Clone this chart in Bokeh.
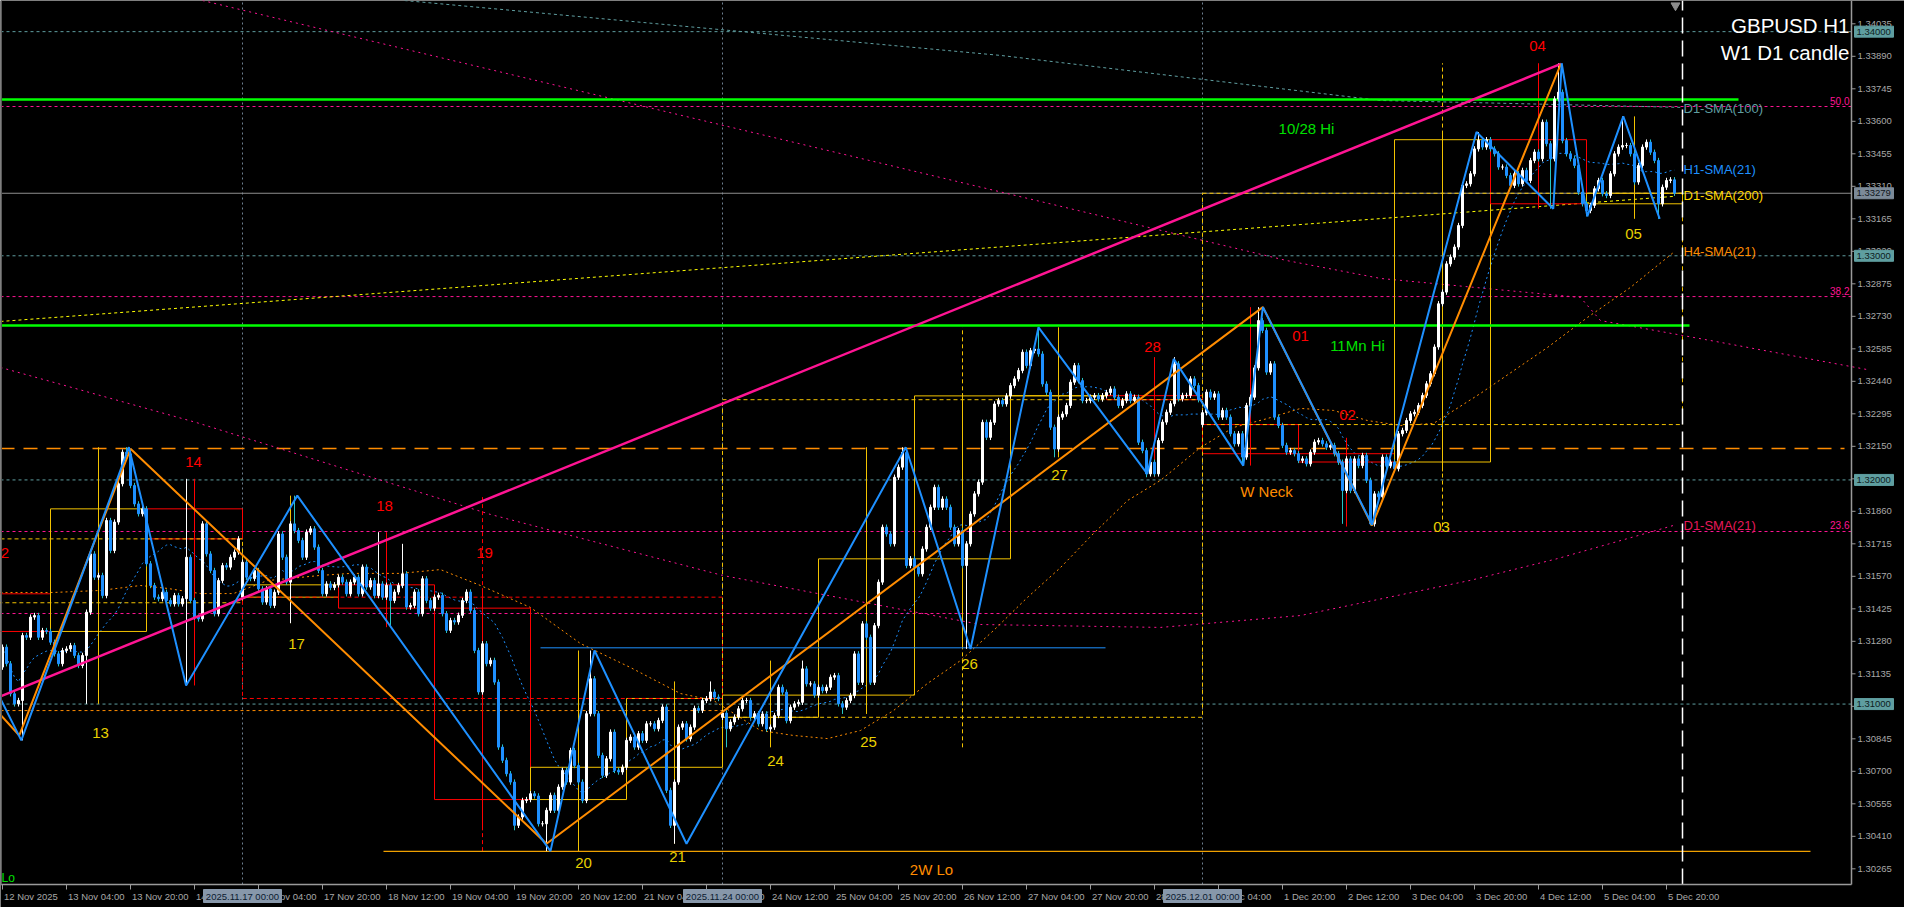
import numpy as np
import pandas as pd
from bokeh.plotting import figure
from bokeh.models import Range1d, ColumnDataSource
from bokeh.core.properties import value
from bokeh.embed import file_html
from bokeh.resources import INLINE

# ---------------- data (prices in points above 1.30000, 1 pt = 0.00001) ----------------
first_open = 1165
closes_pts = [
    1254, 1180, 1046, 1001, 1016, 1306, 1298, 1388, 1395, 1298,
    1328, 1324, 1276, 1224, 1180, 1239, 1246, 1261, 1217, 1172,
    1217, 1410, 1670, 1566, 1574, 1484, 1819, 1685, 1812, 1983,
    2124, 2116, 1975, 1893, 1849, 1871, 1626, 1529, 1477, 1470,
    1499, 1462, 1447, 1484, 1447, 1470, 1655, 1462, 1388, 1380,
    1804, 1670, 1596, 1403, 1551, 1618, 1611, 1655, 1678, 1737,
    1633, 1566, 1560, 1596, 1514, 1455, 1514, 1440, 1499, 1759,
    1655, 1544, 1804, 1774, 1730, 1655, 1767, 1782, 1700, 1596,
    1492, 1536, 1520, 1532, 1566, 1544, 1492, 1544, 1566, 1492,
    1611, 1522, 1551, 1484, 1536, 1477, 1530, 1462, 1500, 1529,
    1581, 1433, 1440, 1500, 1403, 1559, 1462, 1428, 1477, 1485,
    1403, 1329, 1373, 1366, 1396, 1462, 1500, 1418, 1239, 1054,
    1269, 1180, 1195, 1098, 808, 749, 689, 652, 459, 496,
    570, 574, 600, 590, 466, 466, 526, 593, 526, 630,
    704, 652, 793, 726, 652, 570, 957, 1113, 957, 771,
    682, 756, 875, 704, 697, 718, 838, 853, 808, 868,
    838, 912, 912, 890, 927, 987, 615, 459, 652, 897,
    912, 845, 897, 981, 972, 1016, 1024, 1054, 1031, 1025,
    960, 890, 920, 942, 979, 1016, 1016, 942, 957, 912,
    956, 889, 897, 949, 1075, 1053, 926, 986, 1001, 1008,
    1157, 1090, 1090, 1040, 1075, 1060, 1075, 1120, 1127, 1001,
    986, 1016, 1038, 1224, 1097, 1358, 1298, 1097, 1350, 1544,
    1789, 1759, 1715, 2012, 2057, 2123, 1618, 1648, 1610, 1581,
    1692, 1789, 1878, 1967, 1878, 1915, 1878, 1789, 1715, 1774,
    1618, 1715, 1848, 1938, 1990, 2257, 2190, 2257, 2339, 2354,
    2339, 2375, 2421, 2451, 2488, 2570, 2510, 2577, 2584, 2562,
    2428, 2391, 2235, 2138, 2280, 2294, 2332, 2436, 2510, 2443,
    2354, 2354, 2369, 2376, 2361, 2376, 2390, 2406, 2369, 2332,
    2354, 2384, 2354, 2369, 2168, 2131, 2027, 2079, 2027, 2176,
    2258, 2302, 2340, 2518, 2362, 2377, 2377, 2451, 2421, 2358,
    2300, 2392, 2369, 2384, 2280, 2310, 2280, 2206, 2161, 2206,
    2102, 2332, 2369, 2500, 2711, 2667, 2481, 2518, 2280, 2243,
    2154, 2124, 2131, 2117, 2087, 2094, 2072, 2124, 2169, 2176,
    2161, 2146, 2154, 2117, 2079, 1953, 2094, 1953, 2094, 2064,
    2109, 1998, 1804, 1938, 1925, 2102, 2064, 2080, 2050, 2206,
    2221, 2265, 2295, 2302, 2332, 2377, 2429, 2474, 2593, 2786,
    2838, 2964, 2994, 3039, 3135, 3314, 3321, 3366, 3477, 3515,
    3485, 3518, 3477, 3455, 3396, 3396, 3358, 3314, 3366, 3321,
    3381, 3336, 3425, 3463, 3433, 3596, 3500, 3433, 3700, 3730,
    3514, 3455, 3433, 3403, 3284, 3232, 3202, 3225, 3299, 3336,
    3277, 3269, 3366, 3455, 3485, 3492, 3492, 3455, 3329, 3403,
    3485, 3507, 3462, 3425, 3232, 3306, 3336, 3339, 3279,
]
open_gaps = {60: 1477, 180: 941, 300: 2247}
high_ext = {31: 2146, 46: 2005, 73: 1930, 94: 1767, 100: 1715, 147: 1239, 177: 1101,
            200: 1194, 225: 2146, 259: 2681, 293: 2548, 314: 2771, 369: 3552, 389: 3859, 405: 3622}
low_ext = {5: 838, 21: 1001, 46: 1083, 72: 1361, 97: 1343, 128: 437, 136: 344, 168: 377,
           181: 807, 210: 956, 241: 1246, 263: 2101, 286: 2012, 310: 2064, 335: 1804,
           342: 1797, 387: 3210, 396: 3176, 414: 3165}
wick_pts = 12
day12_open = 1492
week10_open = 1452

# zigzags / trend line (bar index, pts)
blue_zz_bar = [-0.7, 4.7, 31.6, 45.9, 73.7, 137.0, 148.0, 171.0, 225.8, 242.0, 259.0,
               286.2, 292.8, 310.2, 315.1, 342.4, 368.5, 387.7, 389.8, 396.2, 405.2, 414.3]
blue_zz_pts = [1031, 838, 2146, 1083, 1930, 344, 1239, 377, 2146, 1246, 2681,
               2027, 2540, 2064, 2771, 1800, 3552, 3210, 3859, 3176, 3622, 3165]
orange_zz_bar = [-0.7, 4.2, 32.0, 136.0, 315.1, 342.4, 389.6]
orange_zz_pts = [956, 860, 2139, 377, 2771, 1797, 3856]
trend_bar = [-0.5, 389.6]
trend_pts = [1034, 3856]

# moving-average curves
h4_bar = [-0.5, 12.75, 24.5, 34.5, 41.25, 49.5, 57.75, 66.25, 79.5, 87, 99.5, 109.5, 119.5, 132,
          144.5, 157, 169.5, 177.75, 189.5, 197.75, 206.25, 214.5, 222.75, 231.25, 239.5, 247.75,
          256.25, 264.5, 272.75, 281.25, 289.5, 299.5, 307.75, 316.25, 324.5, 332.75, 341.25,
          349.5, 357.75, 369.5, 386.25, 396.25, 407, 417.75]
h4_pts = [1498, 1498, 1507, 1529, 1516, 1493, 1493, 1551, 1574, 1583, 1583, 1600, 1529, 1431,
          1270, 1163, 1047, 1016, 882, 860, 846, 882, 971, 1092, 1194, 1328,
          1476, 1609, 1761, 1908, 1998, 2145, 2234, 2274, 2319, 2310, 2265,
          2243, 2252, 2386, 2591, 2725, 2859, 3015]
d1_200_bar = [-0.5, 344.5, 417.75]
d1_200_pts = [2707, 3166, 3265]
d1_100_bar = [100.5, 249.5, 344.5, 420.0]
d1_100_pts = [4139, 3894, 3693, 3662]
d1_21_bar = [-0.5, 48.5, 122, 180, 244.5, 289.5, 324.5, 367, 388.75, 417.75]
d1_21_pts = [2502, 2256, 1846, 1574, 1355, 1342, 1395, 1552, 1649, 1797]
w_ma_bar = [50, 321, 344.5, 394.5, 399.5, 427, 466]
w_ma_pts = [4139, 2979, 2899, 2814, 2711, 2622, 2493]

# horizontal levels
green_levels = [3697, 2689]
green_ends = [434.0, 421.75]
fib_levels = [3666, 2818, 1770]
fib_texts = ["50.0", "38.2", "23.6"]
round_levels = [4000, 3000, 2000, 1000]
current_pts = 3279
orange_long_pts = 2140
orange_short_pts = 971
blue_hline_pts = 1251
blue_hline_span = [134.5, 275.75]
lo2w_pts = 343
lo2w_span = [95.25, 452.0]
pink_extra_pts = 1404

# chart text
day_lbl_text = ["2", "13", "14", "17", "18", "19", "20", "21", "24", "25", "26", "27", "28",
                "01", "02", "03", "04", "05"]
day_lbl_bar = [0.6, 24.5, 47.75, 73.5, 95.5, 120.5, 145.25, 168.75, 193.25, 216.5, 241.75,
               264.25, 287.5, 324.5, 336.25, 359.75, 383.75, 407.75]
day_lbl_pts = [1676, 873, 2078, 1266, 1882, 1672, 289, 316, 744, 833, 1177, 2024, 2591,
               2640, 2288, 1788, 3934, 3099]
day_lbl_up = [False, True, False, True, False, False, True, True, True, True, True, True,
              False, False, False, True, False, True]
note_text = ["10/28 Hi", "11Mn Hi", "W Neck", "2W Lo"]
note_bar = [326.0, 338.75, 316.0, 232.25]
note_pts = [3568, 2600, 1948, 262]
note_color = ["#00e000", "#00e000", "#ff8c00", "#ff8c00"]
ma_lbl_text = ["D1-SMA(100)", "H1-SMA(21)", "D1-SMA(200)", "H4-SMA(21)", "D1-SMA(21)"]
ma_lbl_pts = [3657, 3385, 3269, 3019, 1797]
ma_lbl_color = ["#5f9ea0", "#1e90ff", "#ffd700", "#ff8c00", "#e6195a"]
price_ticks = [1.30265, 1.30410, 1.30555, 1.30700, 1.30845, 1.30990, 1.31135, 1.31280, 1.31425,
               1.31570, 1.31715, 1.31860, 1.32005, 1.32150, 1.32295, 1.32440, 1.32585, 1.32730,
               1.32875, 1.33020, 1.33165, 1.33310, 1.33455, 1.33600, 1.33745, 1.33890, 1.34035]

# ---------------- derived ----------------
P = lambda v: 1.3 + np.asarray(v, dtype=float) * 1e-5
times = [t for t in pd.date_range("2025-11-12 12:00", "2025-12-05 22:00", freq="h") if t.weekday() < 5]
n = len(times)
idx = np.arange(n)
c_pts = np.array(closes_pts, dtype=float)
o_pts = np.concatenate([[first_open], c_pts[:-1]])
for k, v in open_gaps.items():
    o_pts[k] = v
h_pts = np.maximum(o_pts, c_pts) + wick_pts
l_pts = np.minimum(o_pts, c_pts) - wick_pts
for k, v in high_ext.items():
    h_pts[k] = v
for k, v in low_ext.items():
    l_pts[k] = v
O, H, L, C = P(o_pts), P(h_pts), P(l_pts), P(c_pts)
bull = C >= O

# geometry: 4 px per bar, plot area 1851 x 884 px, axes drawn by hand in the remaining strip
W, HGT = 1904, 907
PW, PH = 1851, 884
SX = 4.0
PXY = 22414.0
X0 = -0.5
Y1 = 1.34139
bx = lambda px: X0 + px / SX
by = lambda py: Y1 - py / PXY
XE = bx(PW)          # right edge of the plot area (bar units)
YB = by(PH)          # bottom edge of the plot area (price)

p = figure(width=W, height=HGT, x_range=Range1d(X0, bx(W)), y_range=Range1d(by(HGT), Y1),
           x_axis_location=None, y_axis_location=None, output_backend="svg",
           toolbar_location=None, min_border=0, min_border_left=0, min_border_right=0,
           min_border_top=0, min_border_bottom=0,
           background_fill_color="black", border_fill_color="black")
p.grid.visible = False
p.outline_line_color = None

FONT = "Liberation Sans"
AXC = "#9a9a9a"

# vertical week separators
for t_i, t in enumerate(times):
    if t.weekday() == 0 and t.hour == 0:
        p.line([t_i, t_i], [YB, Y1], line_color="#6f8090", line_dash="2 3", line_width=1)

# horizontal levels
for lv in round_levels:
    p.line([X0, XE], [P(lv), P(lv)], line_color="#5f9ea0", line_dash="3 3", line_width=1)
for lv in fib_levels:
    p.line([X0, XE], [P(lv), P(lv)], line_color="#ff1493", line_dash="3 3", line_width=1)
p.line([X0, 300], [P(pink_extra_pts)] * 2, line_color="#ff1493", line_dash="3 3", line_width=1)
p.line([X0, 180], [P(orange_short_pts)] * 2, line_color="#ff8c00", line_dash="3 3", line_width=1)
p.line([X0, 460.5], [P(orange_long_pts)] * 2, line_color="#ff8c00", line_dash="14 9", line_width=1.5)
p.line([X0, XE], [P(current_pts)] * 2, line_color="#8f8f8f", line_width=1)

# moving averages
p.line(d1_100_bar, P(d1_100_pts), line_color="#5f9ea0", line_dash="3 3", line_width=1)
p.line(w_ma_bar, P(w_ma_pts), line_color="#ff1493", line_dash="2 4", line_width=1)
p.line(d1_21_bar, P(d1_21_pts), line_color="#ff1493", line_dash="2 4", line_width=1)
p.line(d1_200_bar, P(d1_200_pts), line_color="#ffff00", line_dash="3 3", line_width=1)
p.line(h4_bar, P(h4_pts), line_color="#ff8c00", line_dash="2 3", line_width=1)
h1_sma = pd.Series(C).rolling(21, min_periods=1).mean().values
p.line(idx, h1_sma, line_color="#1e90ff", line_dash="2 3", line_width=1)

# daily / weekly candle boxes
def period_groups(keyfunc):
    groups = []
    cur = None
    for i, t in enumerate(times):
        k = keyfunc(t)
        if cur is None or cur[0] != k:
            cur = [k, i, i]
            groups.append(cur)
        else:
            cur[2] = i
    return groups

for k, i0, i1 in period_groups(lambda t: t.date()):
    start = i0 - times[i0].hour
    end = i1 + 1 + (23 - times[i1].hour)
    d_open = P(day12_open) if start < 0 else O[i0]
    d_close = C[i1]
    d_hi, d_lo = H[i0:i1 + 1].max(), L[i0:i1 + 1].min()
    col = "#f2c200" if d_close >= d_open else "#ff0000"
    mid = start + 12
    if mid >= 1:
        p.line([mid, mid], [d_lo, d_hi], line_color=col, line_width=1)
    p.quad(left=start, right=end, top=max(d_open, d_close), bottom=min(d_open, d_close),
           fill_alpha=0, line_color=col, line_width=1)

for k, i0, i1 in period_groups(lambda t: t.isocalendar()[1]):
    start = i0 - (times[i0].weekday() * 24 + times[i0].hour)
    end = i1 + 1 + (23 - times[i1].hour)
    w_open = P(week10_open) if start < 0 else O[i0]
    w_close = C[i1]
    w_hi, w_lo = H[i0:i1 + 1].max(), L[i0:i1 + 1].min()
    col = "#f2c200" if w_close >= w_open else "#ff0000"
    mid = start + 60
    if mid >= 1:
        p.line([mid, mid], [w_lo, w_hi], line_color=col, line_dash="4 3", line_width=1)
    p.quad(left=start, right=end, top=max(w_open, w_close), bottom=min(w_open, w_close),
           fill_alpha=0, line_color=col, line_dash="4 3", line_width=1)

# key lines
p.line([X0, green_ends[0]], [P(green_levels[0])] * 2, line_color="#00ff00", line_width=2.5)
p.line([X0, green_ends[1]], [P(green_levels[1])] * 2, line_color="#00ff00", line_width=2.5)
p.line(blue_hline_span, [P(blue_hline_pts)] * 2, line_color="#1e90ff", line_width=1)
p.line(lo2w_span, [P(lo2w_pts)] * 2, line_color="#f0a000", line_width=1.2)

# candles
src = ColumnDataSource(dict(
    x=idx, top=np.maximum(O, C), bottom=np.minimum(O, C), hi=H, lo=L,
    body=np.where(bull, "#ffffff", "#1e90ff"),
    wick=np.where(bull, "#ffffff", "#27c4c4"),
))
p.segment(x0="x", y0="lo", x1="x", y1="hi", line_color="wick", line_width=1, source=src)
p.vbar(x="x", width=0.5, top="top", bottom="bottom", fill_color="body", line_color="body",
       line_width=1, source=src)

# zigzags and trend line
p.line(trend_bar, P(trend_pts), line_color="#ff1493", line_width=2.5)
p.line(orange_zz_bar, P(orange_zz_pts), line_color="#ff8c00", line_width=2)
p.line(blue_zz_bar, P(blue_zz_pts), line_color="#1e90ff", line_width=2)

# end-of-data marker
p.line([420, 420], [YB, Y1], line_color="#ffffff", line_dash="16 7", line_width=1.5)
p.scatter([418.25], [by(5)], marker="inverted_triangle", size=9,
          fill_color="#8c8c8c", line_color="#8c8c8c")

# texts inside the chart
day_src = ColumnDataSource(dict(
    x=day_lbl_bar, y=P(day_lbl_pts), t=day_lbl_text,
    c=["#e8d000" if u else "#ff0000" for u in day_lbl_up]))
p.text(x="x", y="y", text="t", text_color="c", source=day_src, text_font=value(FONT),
       text_font_size="15px", text_align="center", text_baseline="middle")
note_src = ColumnDataSource(dict(x=note_bar, y=P(note_pts), t=note_text, c=note_color))
p.text(x="x", y="y", text="t", text_color="c", source=note_src, text_font=value(FONT),
       text_font_size="15px", text_align="center", text_baseline="middle")
ma_src = ColumnDataSource(dict(x=[420.25] * len(ma_lbl_text), y=P(ma_lbl_pts), t=ma_lbl_text,
                               c=ma_lbl_color))
p.text(x="x", y="y", text="t", text_color="c", source=ma_src, text_font=value(FONT),
       text_font_size="13px", text_align="left", text_baseline="middle")
fib_src = ColumnDataSource(dict(x=[bx(PW - 2)] * 3, y=P(fib_levels) + 2 / PXY, t=fib_texts))
p.text(x="x", y="y", text="t", text_color="#ff1493", source=fib_src, text_font=value(FONT),
       text_font_size="10px", text_align="right", text_baseline="bottom")
p.text(x=[bx(1)], y=[by(PH - 7)], text=["Lo"], text_color="#00e000", text_font=value(FONT),
       text_font_size="12px", text_align="left", text_baseline="middle")
p.text(x=[bx(PW - 2)] * 2, y=[by(25), by(52)], text=["GBPUSD H1", "W1 D1 candle"],
       text_color="#ffffff", text_font=value(FONT), text_font_size="20.5px",
       text_align="right", text_baseline="alphabetic")

# ---------------- hand-drawn axes ----------------
AXF = "9.5px"
p.line([XE, XE], [YB, Y1], line_color=AXC, line_width=1.5)
p.line([X0, XE], [YB, YB], line_color=AXC, line_width=1.5)
p.line([bx(1), bx(1)], [YB, Y1], line_color="#5a5a5a", line_width=1)

# price axis
p.segment(x0=[XE] * len(price_ticks), y0=price_ticks, x1=[bx(PW + 4)] * len(price_ticks),
          y1=price_ticks, line_color=AXC, line_width=1)
p.text(x=[bx(PW + 6)] * len(price_ticks), y=price_ticks, text=[f"{v:.5f}" for v in price_ticks],
       text_color="#a8a8a8", text_font=value(FONT), text_font_size=AXF,
       text_align="left", text_baseline="middle")
hl_vals = list(P(round_levels)) + [P(current_pts)]
hl_cols = ["#5f9ea0"] * len(round_levels) + ["#7c8a98"]
hl_txtc = ["#0d2020"] * len(round_levels) + ["#10161c"]
p.quad(left=[bx(PW + 3)] * len(hl_vals), right=[bx(PW + 42)] * len(hl_vals),
       top=[v + 5.5 / PXY for v in hl_vals], bottom=[v - 5.5 / PXY for v in hl_vals],
       fill_color=hl_cols, line_color=hl_cols)
p.text(x=[bx(PW + 5)] * len(hl_vals), y=hl_vals, text=[f"{v:.5f}" for v in hl_vals],
       text_color=hl_txtc, text_font=value(FONT), text_font_size=AXF,
       text_align="left", text_baseline="middle")

# time axis
xt = list(range(0, n, 16))
xt_lbl = ["12 Nov 2025" if i == 0 else f"{times[i].day} {times[i].strftime('%b')} {times[i].strftime('%H:%M')}"
          for i in xt]
p.segment(x0=xt, y0=[YB] * len(xt), x1=xt, y1=[by(PH + 5)] * len(xt), line_color=AXC, line_width=1)
p.text(x=[i + 1.5 / SX for i in xt], y=[by(PH + 12)] * len(xt), text=xt_lbl,
       text_color="#a8a8a8", text_font=value(FONT), text_font_size=AXF,
       text_align="left", text_baseline="middle")
wk_idx = [i for i, t in enumerate(times) if t.weekday() == 0 and t.hour == 0]
wk_lbl = [times[i].strftime("%Y.%m.%d %H:%M") for i in wk_idx]
p.quad(left=[i - 39 / SX for i in wk_idx], right=[i + 39 / SX for i in wk_idx],
       top=[by(PH + 5)] * len(wk_idx), bottom=[by(PH + 18)] * len(wk_idx),
       fill_color="#8797aa", line_color="#8797aa")
p.text(x=wk_idx, y=[by(PH + 11.5)] * len(wk_idx), text=wk_lbl, text_color="#0b1a30",
       text_font=value(FONT), text_font_size=AXF, text_align="center", text_baseline="middle")

open("out.html", "w").write(file_html(p, INLINE))
